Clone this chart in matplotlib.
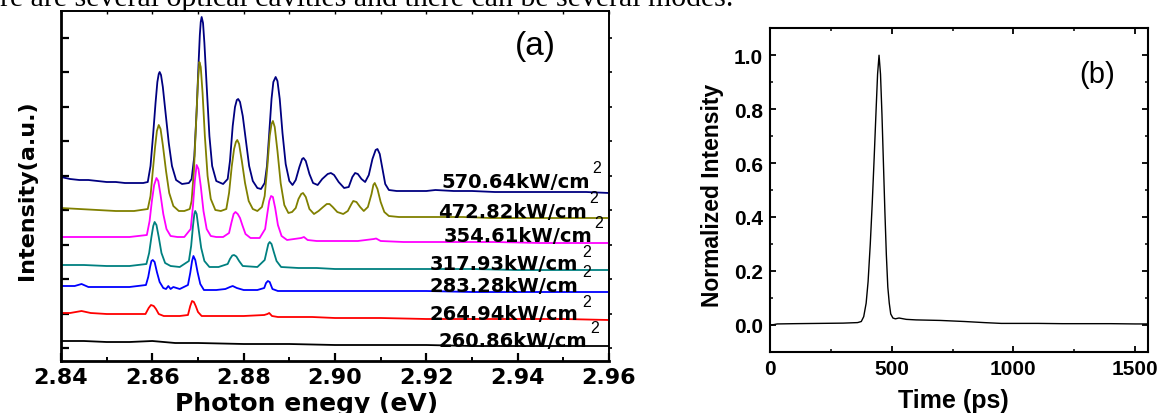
import matplotlib
matplotlib.use("Agg")
import matplotlib.pyplot as plt
from matplotlib.ticker import MultipleLocator

# ---------------- data: panel (a) spectra (photon energy eV, intensity a.u.) ----------------
x_570 = [2.8400, 2.8420, 2.8440, 2.8460, 2.8480, 2.8500, 2.8520, 2.8540, 2.8560, 2.8580,
         2.8590, 2.8596, 2.8602, 2.8607, 2.8611, 2.8614, 2.8616, 2.8619, 2.8623, 2.8629, 2.8636, 2.8643, 2.8652, 2.8665, 2.8680,
         2.8686, 2.8692, 2.8697, 2.8701, 2.8704, 2.8706, 2.8708, 2.8711, 2.8714, 2.8719, 2.8725, 2.8731, 2.8740, 2.8755, 2.8765,
         2.8770, 2.8776, 2.8781, 2.8785, 2.8788, 2.8792, 2.8798, 2.8805, 2.8812, 2.8820, 2.8830, 2.8838, 2.8846,
         2.8851, 2.8856, 2.8861, 2.8865, 2.8870, 2.8874, 2.8879, 2.8885, 2.8892, 2.8900, 2.8907, 2.8914,
         2.8922, 2.8928, 2.8931, 2.8936, 2.8944, 2.8952, 2.8962, 2.8972,
         2.8984, 2.8991, 2.8998, 2.9008, 2.9020, 2.9030, 2.9038,
         2.9044, 2.9050, 2.9058, 2.9066, 2.9074, 2.9082,
         2.9089, 2.9093, 2.9098, 2.9104, 2.9110, 2.9118, 2.9135, 2.9160, 2.9200, 2.9220, 2.9260,
         2.9300, 2.9350, 2.9400, 2.9450, 2.9500, 2.9550, 2.9600]
y_570 = [184, 182, 181, 181, 180, 179, 179, 178, 178, 178,
         179, 195, 228, 258, 279, 287, 289, 286, 274, 248, 218, 195, 181, 177, 178,
         182, 205, 250, 295, 326, 339, 344, 338, 318, 275, 225, 195, 180, 177, 182,
         200, 235, 254, 261, 262, 259, 245, 220, 195, 180, 173, 172, 178,
         195, 228, 262, 279, 284, 280, 262, 228, 197, 180, 176, 181,
         194, 202, 203, 200, 187, 178, 176, 182,
         187, 188, 186, 179, 173, 174, 184,
         188, 187, 182, 179, 186, 202,
         211, 212, 207, 192, 177, 171, 170, 170, 170, 171, 170,
         170, 169, 169, 169, 169, 169, 168]

x_472 = [2.8400, 2.8440, 2.8480, 2.8520, 2.8560,
         2.8590, 2.8596, 2.8601, 2.8606, 2.8610, 2.8614, 2.8618, 2.8623, 2.8630, 2.8637, 2.8646, 2.8658, 2.8670, 2.8682,
         2.8686, 2.8691, 2.8696, 2.8700, 2.8703, 2.8706, 2.8710, 2.8715, 2.8721, 2.8728, 2.8738, 2.8750, 2.8762,
         2.8768, 2.8774, 2.8779, 2.8783, 2.8786, 2.8790, 2.8796, 2.8803, 2.8811, 2.8820, 2.8830, 2.8840,
         2.8846, 2.8852, 2.8857, 2.8861, 2.8864, 2.8868, 2.8874, 2.8881, 2.8889, 2.8898, 2.8906, 2.8914,
         2.8920, 2.8926, 2.8930, 2.8936, 2.8944, 2.8954, 2.8964, 2.8974,
         2.8982, 2.8988, 2.8995, 2.9005, 2.9018, 2.9028, 2.9036,
         2.9040, 2.9047, 2.9055, 2.9063, 2.9072, 2.9080,
         2.9084, 2.9087, 2.9093, 2.9100, 2.9108, 2.9118, 2.9140, 2.9180, 2.9220, 2.9280,
         2.9340, 2.9400, 2.9480, 2.9540, 2.9600]
y_472 = [153, 152, 151, 150, 150,
         152, 165, 190, 214, 230, 236, 232, 216, 190, 168, 155, 150, 150, 152,
         160, 190, 240, 280, 299, 294, 268, 225, 185, 162, 151, 150, 152,
         168, 195, 212, 219, 221, 217, 200, 178, 160, 152, 150, 154,
         165, 195, 225, 237, 240, 234, 210, 178, 156, 148, 149, 153,
         162, 167, 168, 164, 152, 147, 150, 154,
         157, 157, 154, 149, 147, 150, 157,
         160, 159, 154, 150, 154, 167,
         176, 178, 172, 159, 149, 145, 144, 144, 144, 144,
         143, 143, 143, 143, 143]

x_354 = [2.8400, 2.8450, 2.8500, 2.8550,
         2.8588, 2.8594, 2.8599, 2.8604, 2.8609, 2.8613, 2.8618, 2.8624, 2.8631, 2.8640, 2.8655, 2.8670,
         2.8684, 2.8689, 2.8693, 2.8697, 2.8701, 2.8706, 2.8712, 2.8719, 2.8728, 2.8740, 2.8755,
         2.8768, 2.8773, 2.8778, 2.8782, 2.8787, 2.8792, 2.8797, 2.8804, 2.8815, 2.8835,
         2.8847, 2.8852, 2.8856, 2.8860, 2.8864, 2.8869, 2.8875, 2.8883, 2.8895, 2.8926, 2.8932, 2.8940,
         2.8960, 2.9000, 2.9050, 2.9085, 2.9090, 2.9100, 2.9150, 2.9250, 2.9350, 2.9450, 2.9600]
y_354 = [124, 124, 124, 124,
         126, 140, 160, 176, 183, 180, 166, 147, 132, 125, 124, 124,
         132, 155, 180, 196, 192, 175, 150, 132, 125, 124, 124,
         128, 138, 147, 149, 147, 143, 136, 127, 123, 123,
         132, 148, 160, 165, 164, 153, 136, 125, 121, 123, 124, 121,
         120, 120, 120, 122, 122.5, 120, 119, 119, 119, 118, 118]

x_317 = [2.8400, 2.8450, 2.8500, 2.8550,
         2.8587, 2.8593, 2.8598, 2.8602, 2.8605, 2.8609, 2.8614, 2.8620, 2.8628, 2.8640, 2.8660,
         2.8680, 2.8685, 2.8689, 2.8692, 2.8694, 2.8697, 2.8701, 2.8707, 2.8714, 2.8725, 2.8745,
         2.8765, 2.8770, 2.8775, 2.8779, 2.8784, 2.8790, 2.8798, 2.8830,
         2.8846, 2.8850, 2.8854, 2.8857, 2.8861, 2.8866, 2.8872, 2.8882, 2.8920, 2.8960, 2.9000,
         2.9100, 2.9200, 2.9300, 2.9400, 2.9600]
y_317 = [96, 96, 95, 95,
         97, 108, 124, 135, 139, 136, 124, 108, 98, 95, 94,
         100, 115, 135, 147, 150, 147, 133, 113, 100, 94, 94,
         97, 102, 105.5, 106, 104.5, 100, 95, 94,
         101, 109, 117, 119, 117, 109, 100, 94, 93, 93, 92,
         92, 92, 92, 91, 91]

x_283 = [2.8400, 2.8430, 2.8445, 2.8460, 2.8500, 2.8550,
         2.8586, 2.8591, 2.8595, 2.8598, 2.8601, 2.8605, 2.8610, 2.8616, 2.8624, 2.8630, 2.8635, 2.8640, 2.8646, 2.8660,
         2.8678, 2.8683, 2.8687, 2.8690, 2.8694, 2.8699, 2.8705, 2.8713, 2.8740, 2.8760,
         2.8770, 2.8776, 2.8785, 2.8800, 2.8830, 2.8845,
         2.8849, 2.8853, 2.8857, 2.8863, 2.8875, 2.8900, 2.8950, 2.9000, 2.9100, 2.9200,
         2.9300, 2.9400, 2.9600]
y_283 = [75, 75, 77, 74, 74, 74,
         76, 84, 94, 100, 101, 99, 89, 79, 73, 72, 75, 72, 74, 72,
         76, 88, 100, 105, 101, 89, 77, 71, 71, 72,
         74, 75, 73, 71, 71, 73,
         78, 80, 79, 72, 70, 70, 70, 70, 70, 70,
         69, 69, 69]

x_264 = [2.8400, 2.8420, 2.8445, 2.8465, 2.8500, 2.8540, 2.8585,
         2.8592, 2.8597, 2.8603, 2.8608, 2.8614, 2.8625, 2.8660, 2.8678,
         2.8683, 2.8687, 2.8691, 2.8695, 2.8700, 2.8708, 2.8740, 2.8800, 2.8845,
         2.8852, 2.8856, 2.8862, 2.8875, 2.8950, 2.9000, 2.9100, 2.9200, 2.9300,
         2.9400, 2.9500, 2.9600]
y_264 = [48, 48, 50, 48, 47, 47, 47,
         53, 56, 55, 52, 47, 45, 45, 46,
         55, 60, 59, 55, 49, 45, 45, 45, 46,
         47, 48, 45, 44, 44, 43, 43, 42, 42,
         42, 42, 41]

x_260 = [2.840, 2.845, 2.850, 2.855, 2.860, 2.865, 2.870, 2.880, 2.890, 2.900,
         2.910, 2.920, 2.930, 2.940, 2.950, 2.960]
y_260 = [20, 20, 19, 19, 20, 18, 18, 17, 17, 16, 16, 16, 15, 15, 15, 15]

series_x = [x_570, x_472, x_354, x_317, x_283, x_264, x_260]
series_y = [y_570, y_472, y_354, y_317, y_283, y_264, y_260]
series_colors = ["#000080", "#808000", "#FF00FF", "#008080", "#0000FF", "#FF0000", "#000000"]
power_labels = ["570.64kW/cm", "472.82kW/cm", "354.61kW/cm", "317.93kW/cm",
                "283.28kW/cm", "264.94kW/cm", "260.86kW/cm"]
label_x = [2.9558, 2.9552, 2.9563, 2.9532, 2.9532, 2.9532, 2.9552]
label_y = [174, 144, 120, 92, 70, 42, 15]
sup_x = [2.9572, 2.9566, 2.9577, 2.9551, 2.9551, 2.9551, 2.9569]
sup_y = [189, 159, 134, 105, 85, 55, 29]
a_xticks = [2.84, 2.86, 2.88, 2.90, 2.92, 2.94, 2.96]
a_yticks = [13, 47.5, 82, 116.5, 151, 185.5, 220, 254.5, 289, 323.5]

# ---------------- data: panel (b) time trace ----------------
t_ps = [0, 30, 100, 200, 300, 360, 375, 385, 395, 403, 412, 420, 428, 436, 442, 448,
        454, 460, 466, 472, 478, 484, 490, 496, 505, 515, 530, 560, 600, 650, 700, 750,
        800, 880, 950, 1000, 1100, 1200, 1300, 1400, 1500, 1553]
norm_int = [-0.002, 0.003, 0.004, 0.005, 0.006, 0.008, 0.012, 0.03, 0.08, 0.16, 0.30, 0.45,
            0.62, 0.80, 0.93, 1.0, 0.93, 0.78, 0.60, 0.42, 0.26, 0.14, 0.08, 0.04, 0.025,
            0.022, 0.025, 0.02, 0.018, 0.017, 0.016, 0.014, 0.012, 0.008, 0.005, 0.005,
            0.005, 0.004, 0.004, 0.004, 0.003, 0.003]
b_xticks = [0, 500, 1000, 1500]
b_yticks = [0.0, 0.2, 0.4, 0.6, 0.8, 1.0]

# ---------------- figure ----------------
fig = plt.figure(figsize=(11.62, 4.14), dpi=100)

# cut-off caption line at the top of the page
fig.text(0.0, 0.9855, "re are several optical cavities and there can be several modes.",
         family="Liberation Serif", fontsize=21.5, ha="left", va="baseline")

# ----- panel (a)
ax = fig.add_axes([61 / 1162, 52 / 414, 548 / 1162, 350 / 414])
for xs, ys, c in zip(series_x, series_y, series_colors):
    ax.plot(xs, ys, color=c, lw=1.3)
ax.set_xlim(2.84, 2.96)
ax.set_ylim(0, 350)
ax.set_xticks(a_xticks)
ax.set_xticklabels(["%.2f" % v for v in a_xticks], family="DejaVu Sans",
                   fontweight="bold", fontsize=16)
ax.xaxis.set_minor_locator(MultipleLocator(0.01))
ax.set_yticks(a_yticks)
ax.set_yticklabels([])
ax.tick_params(axis="x", which="major", direction="in", length=5.5, width=1.6, pad=4)
ax.tick_params(axis="x", which="minor", direction="in", length=3, width=1.4)
ax.tick_params(axis="y", which="major", direction="in", length=6, width=1.6)
for s in ["left", "bottom"]:
    ax.spines[s].set_linewidth(2.0)
for s in ["top", "right"]:
    ax.spines[s].set_linewidth(1.2)
top = ax.secondary_xaxis("top")
top.set_xticks([2.84 + 0.01 * k for k in range(13)])
top.set_xticklabels([])
top.tick_params(direction="in", length=2.5, width=1.0)
top.spines["top"].set_linewidth(1.2)
right = ax.secondary_yaxis("right")
right.set_yticks(a_yticks)
right.set_yticklabels([])
right.tick_params(direction="out", length=2.5, width=1.2)
right.spines["right"].set_linewidth(1.2)

for lab, lx, ly, sx, sy in zip(power_labels, label_x, label_y, sup_x, sup_y):
    ax.text(lx, ly, lab, family="DejaVu Sans", fontweight="bold", fontsize=14,
            ha="right", va="baseline")
    ax.text(sx, sy, "2", family="Liberation Sans", fontsize=11.5, ha="center", va="baseline")
ax.text(0.865, 0.9, "(a)", transform=ax.transAxes, family="Liberation Sans",
        fontsize=24, ha="center", va="center")

fig.text(27 / 1162, (414 - 190) / 414, "Intensity(a.u.)", rotation=90, family="DejaVu Sans",
         fontweight="bold", fontsize=16, ha="center", va="center")
fig.text(307 / 1162, 3 / 414, "Photon enegy (eV)", family="DejaVu Sans",
         fontweight="bold", fontsize=18, ha="center", va="baseline")

# ----- panel (b)
bx = fig.add_axes([770 / 1162, 61.3 / 414, 378 / 1162, 323.4 / 414])
bx.plot(t_ps, norm_int, color="black", lw=1.0)
bx.set_xlim(0, 1553)
bx.set_ylim(-0.1, 1.1)
bx.set_xticks(b_xticks)
bx.set_xticklabels([str(v) for v in b_xticks], family="Liberation Sans",
                   fontweight="bold", fontsize=15)
bx.set_yticks(b_yticks)
bx.set_yticklabels(["%.1f" % v for v in b_yticks], family="Liberation Sans",
                   fontweight="bold", fontsize=15)
bx.xaxis.set_minor_locator(MultipleLocator(250))
bx.yaxis.set_minor_locator(MultipleLocator(0.1))
bx.tick_params(which="major", direction="in", length=4, width=1.3,
               top=True, right=True, pad=5)
bx.tick_params(which="minor", direction="in", length=2.5, width=1.1, top=True, right=True)
for s in bx.spines.values():
    s.set_linewidth(1.5)
bx.text(0.865, 0.859, "(b)", transform=bx.transAxes, family="Liberation Sans",
        fontsize=21, ha="center", va="center")
fig.text(712 / 1162, (414 - 195) / 414, "Normalized Intensity", rotation=90,
         family="Liberation Sans", fontweight="bold", fontsize=16.5, ha="center", va="center")
fig.text(953 / 1162, 6 / 414, "Time (ps)", family="Liberation Sans",
         fontweight="bold", fontsize=18, ha="center", va="baseline")

fig.savefig("out.png", dpi=100)
